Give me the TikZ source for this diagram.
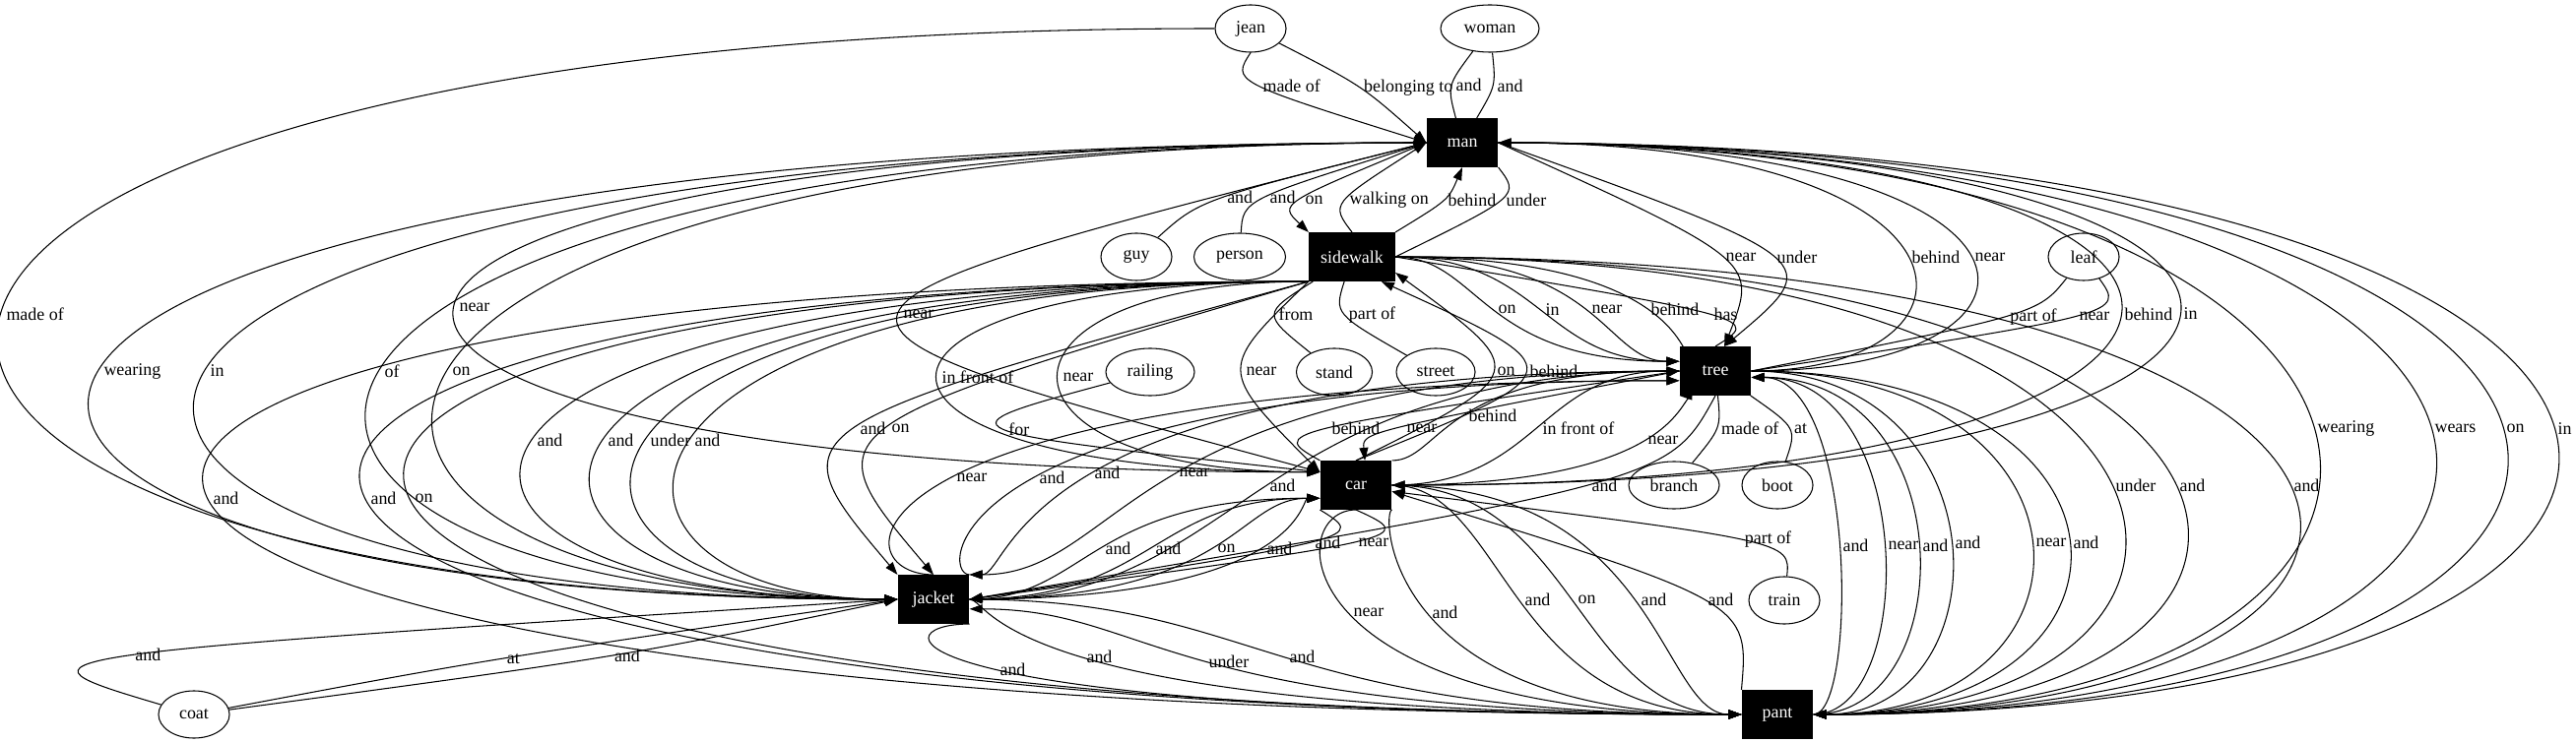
\documentclass[tikz,border=0pt]{standalone}
\usepackage{fontspec}
\setmainfont{Liberation Serif}
\usetikzlibrary{arrows.meta,calc,shapes.geometric}

\begin{document}
\begin{tikzpicture}[x=0.01cm, y=-0.01cm, line width=0.3pt, font=\fontsize{5.1}{6}\selectfont,
  obj/.style={fill=black, text=white, minimum width=7.2mm, minimum height=4.9mm, inner sep=0pt},
  ent/.style={draw, ellipse, minimum width=7.2mm, minimum height=4.8mm, inner sep=0pt},
  via/.style={to path={.. controls ($($(\tikztostart)!.5!(\tikztotarget)$)!1.3333!(#1)$) .. (\tikztotarget) \tikztonodes}},
  swing/.style={to path={let \p1=(\tikztostart), \p2=(\tikztotarget), \p3=(#1) in
    .. controls ({(\x1+\x2)/2+4/3*(\x3-(\x1+\x2)/2)},\y1) and ({(\x1+\x2)/2+4/3*(\x3-(\x1+\x2)/2)},\y2) .. (\tikztotarget) \tikztonodes}},
  lbl/.style={anchor=west, inner sep=0pt, xshift=0.4mm},
  >={Triangle[length=1.3mm, width=0.9mm]}]
\useasboundingbox (0,0) rectangle (2616,755);

% objects
\node[ent] (jean) at (1270,29) {jean};
\node[ent, minimum width=10mm] (woman) at (1513,29) {woman};
\node[obj] (man) at (1485,145) {man};
\node[ent] (guy) at (1154,261) {guy};
\node[ent, minimum width=9.3mm] (person) at (1259,261) {person};
\node[obj, minimum width=8.7mm] (sidewalk) at (1373,261) {sidewalk};
\node[ent] (leaf) at (2116,261) {leaf};
\node[ent, minimum width=9mm] (railing) at (1168,378) {railing};
\node[ent, minimum width=7.7mm] (stand) at (1355,378) {stand};
\node[ent, minimum width=8mm] (street) at (1458,378) {street};
\node[obj] (tree) at (1742,377) {tree};
\node[obj] (car) at (1377,493) {car};
\node[ent, minimum width=9.2mm] (branch) at (1700,493) {branch};
\node[ent] (boot) at (1805,493) {boot};
\node[obj] (jacket) at (948,609) {jacket};
\node[ent] (train) at (1812,610) {train};
\node[ent] (coat) at (197,726) {coat};
\node[obj] (pant) at (1805,726) {pant};

% jean, woman, guy, person
\draw[->] (jean.south) to[via={1278,87}] node[lbl] {made of} (man.west);
\draw[->] (jean) to[via={1377,87}] node[lbl] {belonging to} (man.west);
\draw (woman) to[via={1477,87}] node[lbl] {and} (man);
\draw (woman) to[via={1514,87}] node[lbl] {and} (man);
\draw[->] (jean.west) to[swing={2,319}] node[lbl] {made of} (jacket.west);
\draw[->] (guy) to[via={1239,203}] node[lbl] {and} (man.west);
\draw[->] (person) to[via={1285,203}] node[lbl] {and} (man.west);

% man
\draw[->] (man.west) to[via={1321,203}] node[lbl] {on} (sidewalk.north west);
\draw[->] (sidewalk.north) to[via={1366,203}] node[lbl] {walking on} (man.west);
\draw[->] (sidewalk.north east) to[via={1466,203}] node[lbl] {behind} (man.south);
\draw (sidewalk.east) to[via={1525,203}] node[lbl] {under} (man.south east);
\draw[->] (man.east) to[via={1748,261}] node[lbl] {near} (tree.70);
\draw[->] (man.east) to[via={1800,261}] node[lbl] {under} (tree.70);
\draw[->] (tree.east) to[swing={1937,261}] node[lbl] {behind} (man.east);
\draw[->] (tree.east) to[swing={2001,261}] node[lbl] {near} (man.east);
\draw[->] (man.west) to[swing={462,319}] node[lbl] {near} (car.160);
\draw[->] (man.west) to[via={913,319}] node[lbl] {near} (car.160);
\draw[->] (man.east) to[swing={2153,319}] node[lbl] {behind} (car.east);
\draw[->] (man.east) to[swing={2213,319}] node[lbl] {in} (car.east);
\draw[->] (man.west) to[swing={101,377}] node[lbl] {wearing} (jacket.west);
\draw[->] (man.west) to[swing={209,377}] node[lbl] {in} (jacket.west);
\draw[->] (man.west) to[swing={386,377}] node[lbl] {of} (jacket.west);
\draw[->] (man.west) to[swing={455,377}] node[lbl] {on} (jacket.west);
\draw[->] (man.east) to[swing={2349,435}] node[lbl] {wearing} (pant.east);
\draw[->] (man.east) to[swing={2468,435}] node[lbl] {wears} (pant.east);
\draw[->] (man.east) to[swing={2541,435}] node[lbl] {on} (pant.east);
\draw[->] (man.east) to[swing={2593,435}] node[lbl] {in} (pant.east);

% sidewalk
\draw (stand) to[via={1302,319}] node[lbl] {from} (sidewalk);
\draw (street) to[via={1370,319}] node[lbl] {part of} (sidewalk);
\draw[->] (sidewalk.east) to[swing={1517,319}] node[lbl] {on} (tree.165);
\draw[->] (sidewalk.east) to[swing={1565,319}] node[lbl] {in} (tree.165);
\draw[->] (sidewalk.east) to[swing={1612,319}] node[lbl] {near} (tree.165);
\draw[->] (sidewalk.east) to[swing={1672,319}] node[lbl] {behind} (tree.165);
\draw (tree.north) to[via={1736,319}] node[lbl] {has} (sidewalk.east);
\draw[->] (sidewalk.south west) to[swing={952,377}] node[lbl] {in front of} (car.160);
\draw[->] (sidewalk.south west) to[swing={1075,377}] node[lbl] {near} (car.160);
\draw[->] (sidewalk.south west) to[via={1261,377}] node[lbl] {near} (car.160);
\draw[->] (car.north) to[via={1516,377}] node[lbl] {on} (sidewalk.-20);
\draw[->] (car.north) to[via={1549,377}] node[lbl] {behind} (sidewalk.-40);
\draw[->] (sidewalk.south west) to[swing={541,435}] node[lbl] {and} (jacket.west);
\draw[->] (sidewalk.south west) to[swing={613,435}] node[lbl] {and} (jacket.west);
\draw[->] (sidewalk.south west) to[swing={656,435}] node[lbl] {under} (jacket.west);
\draw[->] (sidewalk.south west) to[swing={701,435}] node[lbl] {and} (jacket.west);
\draw[->] (sidewalk.south west) to[via={869,435}] node[lbl] {and} (jacket.north west);
\draw[->] (sidewalk.south west) to[via={901,435}] node[lbl] {on} (jacket.north);
\draw[->] (sidewalk.south west) to[swing={212,493}] node[lbl] {and} (pant.west);
\draw[->] (sidewalk.south west) to[swing={372,493}] node[lbl] {and} (pant.west);
\draw[->] (sidewalk.south west) to[swing={417,493}] node[lbl] {on} (pant.west);
\draw[->] (sidewalk.east) to[swing={2144,493}] node[lbl] {under} (pant.east);
\draw[->] (sidewalk.east) to[swing={2209,493}] node[lbl] {and} (pant.east);
\draw[->] (sidewalk.east) to[swing={2325,493}] node[lbl] {and} (pant.east);

% leaf, railing, branch, boot, train
\draw (leaf) to[via={2039,319}] node[lbl] {part of} (tree.east);
\draw (leaf) to[via={2105,319}] node[lbl] {near} (tree.east);
\draw[->] (railing) to[via={1025,435}] node[lbl] {for} (car.160);
\draw (tree) to[via={1741,435}] node[lbl] {made of} (branch);
\draw (tree) to[via={1812,435}] node[lbl] {at} (boot);
\draw[->] (train) to[via={1767,551}] node[lbl] {part of} (car.-10);

% car and tree
\draw[->] (car.north west) to[via={1348,435}] node[lbl] {behind} (tree.west);
\draw[->] (tree.west) to[via={1424,435}] node[lbl] {near} (car.70);
\draw[->] (car.north east) to[swing={1487,435}] node[lbl] {behind} (tree.west);
\draw[->] (car.east) to[swing={1562,435}] node[lbl] {in front of} (tree.west);
\draw[->] (car.east) to[swing={1669,435}] node[lbl] {near} (tree.south west);

% jacket and tree
\draw[->] (jacket.north) to[swing={967,493}] node[lbl] {near} (tree.195);
\draw[->] (jacket.north east) to[swing={1051,493}] node[lbl] {and} (tree.195);
\draw[->] (tree.west) to[swing={1107,493}] node[lbl] {and} (jacket.north east);
\draw[->] (tree.west) to[swing={1193,493}] node[lbl] {near} (jacket.north east);
\draw[->] (tree.west) to[swing={1285,493}] node[lbl] {and} (jacket.east);
\draw[->] (tree.south) to[via={1612,493}] node[lbl] {and} (jacket.east);

% jacket and car
\draw[->] (jacket.east) to[swing={1118,551}] node[lbl] {and} (car.200);
\draw[->] (jacket.east) to[swing={1169,551}] node[lbl] {and} (car.200);
\draw[->] (jacket.east) to[swing={1232,551}] node[lbl] {on} (car.200);
\draw[->] (jacket.east) to[swing={1282,551}] node[lbl] {and} (car.200);
\draw[->] (car.south west) to[via={1331,551}] node[lbl] {and} (jacket.east);
\draw[->] (car.south) to[via={1375,551}] node[lbl] {near} (jacket.east);

% pant
\draw[->] (pant.east) to[swing={1867,551}] node[lbl] {and} (tree.-10);
\draw[->] (pant.east) to[swing={1913,551}] node[lbl] {near} (tree.-10);
\draw[->] (pant.east) to[swing={1948,551}] node[lbl] {and} (tree.-10);
\draw[->] (tree.east) to[swing={1981,551}] node[lbl] {and} (pant.east);
\draw[->] (tree.east) to[swing={2063,551}] node[lbl] {near} (pant.east);
\draw[->] (tree.east) to[swing={2101,551}] node[lbl] {and} (pant.east);
\draw[->] (car.south) to[swing={1370,609}] node[lbl] {near} (pant.west);
\draw[->] (car.south east) to[swing={1450,609}] node[lbl] {and} (pant.west);
\draw[->] (car.east) to[swing={1544,609}] node[lbl] {and} (pant.west);
\draw[->] (car.east) to[swing={1598,609}] node[lbl] {on} (pant.west);
\draw[->] (car.east) to[swing={1662,609}] node[lbl] {and} (pant.west);
\draw[->] (pant.north west) to[via={1730,609}] node[lbl] {and} (car.-10);
\draw[->] (jacket.south east) to[swing={1011,667}] node[lbl] {and} (pant.west);
\draw[->] (jacket.east) to[swing={1099,667}] node[lbl] {and} (pant.west);
\draw[->] (pant.west) to[swing={1223,667}] node[lbl] {under} (jacket.-15);
\draw[->] (jacket.east) to[swing={1305,667}] node[lbl] {and} (pant.west);

% coat
\draw[->] (coat) to[via={137,667}] node[lbl] {and} (jacket.west);
\draw[->] (coat) to[via={506,670}] node[lbl] {at} (jacket.west);
\draw[->] (coat) to[via={615,667}] node[lbl] {and} (jacket.west);
\end{tikzpicture}
\end{document}
